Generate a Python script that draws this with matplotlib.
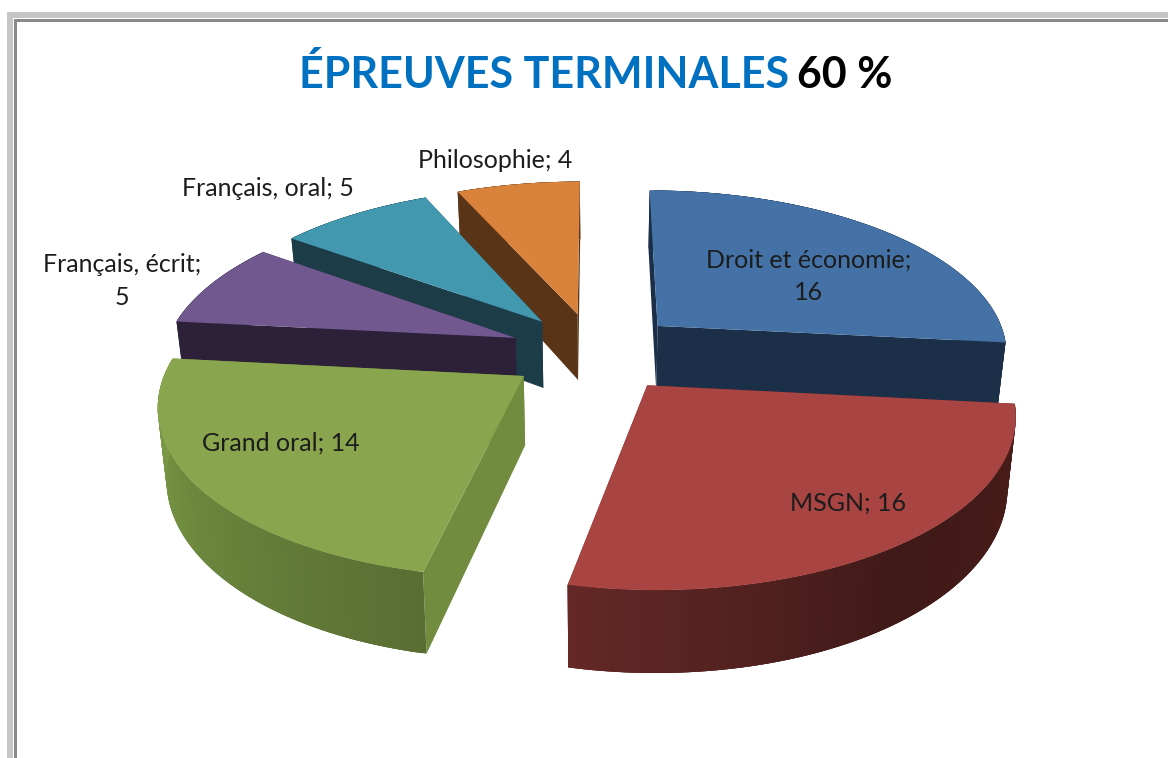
import matplotlib
matplotlib.use('Agg')
import matplotlib.pyplot as plt
import numpy as np
from matplotlib.colors import to_rgb
from matplotlib.patches import Polygon, Rectangle

# données
categories = ['Droit et économie', 'MSGN', 'Grand oral', 'Français, écrit', 'Français, oral', 'Philosophie']
values = [16, 16, 14, 5, 5, 4]

# couleurs : dessus, paroi coupée, bord début, bord fin
top_colors = ['#4472a6', '#a84442', '#89a54e', '#71588f', '#4198af', '#d9823c']
wall_colors = ['#1b2f48', '#642826', '#718b3f', '#2c2138', '#1c3c48', '#5a3417']
rim_start = ['#1b2f48', '#4a1c18', '#5a6e33', '#2c2138', '#1c3c48', '#5a3417']
rim_mid = ['#1b2f48', '#3f1a18', '#6b873d', '#2c2138', '#1c3c48', '#5a3417']
rim_end = ['#1b2f48', '#642826', '#82a04a', '#2c2138', '#1c3c48', '#5a3417']

# label : centre du texte et retour à la ligne
label_pos = [(809, 276), (848, 503), (281, 443), (122, 281), (268, 188), (495, 161)]
label_sep = ['\n', ' ', ' ', '\n', ' ', ' ']

# géométrie de la projection
cx, cy = 595, 352
rx, ry = 352, 163
persp = 0.15
explode = 0.245
depth = 68
shrink = 0.98


def project(u, v, low=False):
    k = 1 / (1 + persp * v)
    x = rx * u * k
    y = cy - ry * v * k
    if low:
        return cx + x * shrink, y + depth * k
    return cx + x, y


def mix(c1, c2, c3, t):
    c1, c2, c3 = np.array(to_rgb(c1)), np.array(to_rgb(c2)), np.array(to_rgb(c3))
    if t < 0.5:
        return c1 + (c2 - c1) * t * 2
    return c2 + (c3 - c2) * (t - 0.5) * 2


plt.rcParams['font.family'] = ['Lato', 'DejaVu Sans']
fig = plt.figure(figsize=(11.68, 7.58), dpi=100)
ax = fig.add_axes([0, 0, 1, 1])
ax.set_xlim(0, 1168)
ax.set_ylim(758, 0)
ax.axis('off')

# cadre gris
ax.add_patch(Rectangle((7, 12), 1161, 6, color='#c6c6c6', lw=0))
ax.add_patch(Rectangle((7, 12), 6, 746, color='#c6c6c6', lw=0))
ax.add_patch(Rectangle((14, 19), 1154, 2.5, color='#8a8a8a', lw=0))
ax.add_patch(Rectangle((14, 19), 2.5, 739, color='#8a8a8a', lw=0))

# angles à partir des valeurs
fractions = np.array(values) / sum(values)
ends = np.cumsum(fractions) * 2 * np.pi
starts = ends - fractions * 2 * np.pi
mids = (starts + ends) / 2
order = np.argsort(-np.cos(mids))

for i in order:
    ox = explode * np.sin(mids[i])
    oy = explode * np.cos(mids[i])
    th = np.linspace(starts[i], ends[i], 120)
    us = ox + np.sin(th)
    vs = oy + np.cos(th)

    # parois coupées
    for a in (starts[i], ends[i]):
        ua, va = ox + np.sin(a), oy + np.cos(a)
        quad = [project(ox, oy), project(ua, va), project(ua, va, True), project(ox, oy, True)]
        ax.add_patch(Polygon(quad, closed=True, fc=wall_colors[i], ec='none'))

    # bord extérieur, en dégradé ; chaque bande chevauche la suivante pour éviter les raies
    for j in range(len(th) - 1):
        col = mix(rim_start[i], rim_mid[i], rim_end[i], j / (len(th) - 2))
        k = min(j + 3, len(th) - 1)
        quad = [project(us[n], vs[n]) for n in range(j, k + 1)]
        quad += [project(us[n], vs[n], True) for n in range(k, j - 1, -1)]
        ax.add_patch(Polygon(quad, closed=True, fc=col, ec='none'))

    # dessus
    pts = [project(ox, oy)] + [project(u, v) for u, v in zip(us, vs)]
    ax.add_patch(Polygon(pts, closed=True, fc=top_colors[i], ec='none'))

for name, val, pos, sep in zip(categories, values, label_pos, label_sep):
    ax.text(pos[0], pos[1], name + ';' + sep + str(val), ha='center', va='center',
            fontsize=18, color='#1c1c1c', linespacing=1.5)

# titre
ax.text(299, 88, 'ÉPREUVES TERMINALES', color='#0070c0', fontsize=31, fontweight='bold',
        ha='left', va='baseline')
ax.text(797, 88, '60 %', color='black', fontsize=31, fontweight='bold', ha='left', va='baseline')

fig.savefig('out.png', dpi=100)
